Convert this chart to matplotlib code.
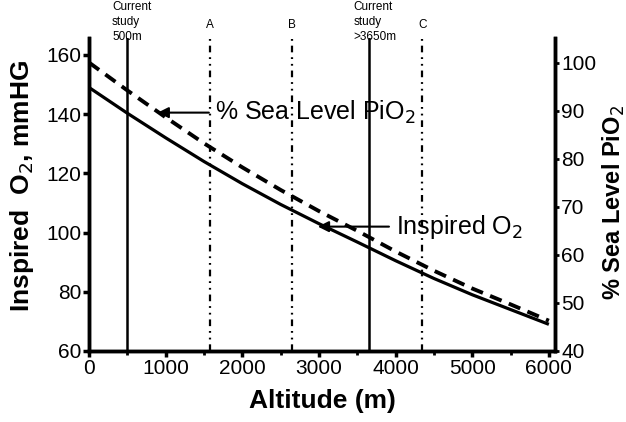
import matplotlib
matplotlib.use("Agg")
import matplotlib.pyplot as plt
import matplotlib.transforms as mtransforms
from matplotlib.ticker import MultipleLocator

plt.rcParams['font.family'] = ['Liberation Sans', 'DejaVu Sans']

altitude = [0, 500, 1000, 1500, 2000, 2500, 3000, 3500, 4000, 4500, 5000, 5500, 6000]
inspired_o2 = [149, 140.3, 132, 124, 116.5, 109.5, 103, 96.8, 90.5, 84.5, 79, 74, 69]
pct_sea_level = [100, 94.2, 88.6, 83.2, 78.2, 73.5, 69.1, 65.0, 60.7, 56.7, 53.0, 49.7, 46.3]

solid_markers = [500, 3650]
solid_marker_labels = ["Current\nstudy\n500m", "Current\nstudy\n>3650m"]
dashdot_markers = [1580, 2650, 4350]
dashdot_marker_labels = ["A", "B", "C"]

W, H = 626, 422
fig = plt.figure(figsize=(W / 100, H / 100), dpi=100)
ax = fig.add_axes([89 / W, 1 - 351 / H, (555 - 89) / W, (351 - 38) / H])
ax2 = ax.twinx()

ax.set_xlim(0, 6080)
ax.set_ylim(60, 165.7)
ax2.set_ylim(40, 105.1)

ax.plot(altitude, inspired_o2, color='black', lw=2.3, solid_capstyle='butt')
ax2.plot(altitude, pct_sea_level, color='black', lw=2.8, linestyle=(0, (3.2, 2)))

for xv in solid_markers:
    ax.axvline(xv, color='black', lw=1.8)
for xv in dashdot_markers:
    ax.axvline(xv, color='black', lw=1.6, linestyle=(0, (3, 2.2, 0.8, 2.2, 0.8, 2.2)))

trans = mtransforms.blended_transform_factory(ax.transData, fig.transFigure)
for xv, lab in zip(solid_markers, solid_marker_labels):
    fig.text(xv - 200, 1 - 1 / H, lab, transform=trans, ha='left', va='top',
             fontsize=8.5, linespacing=1.35)
for xv, lab in zip(dashdot_markers, dashdot_marker_labels):
    fig.text(xv, 1 - 25 / H, lab, transform=trans, ha='center', va='center', fontsize=8.5)

for a in (ax, ax2):
    a.spines['top'].set_visible(False)
    for s in ('left', 'right', 'bottom'):
        a.spines[s].set_linewidth(2.5)

ax.xaxis.set_major_locator(MultipleLocator(1000))
ax.xaxis.set_minor_locator(MultipleLocator(500))
ax.yaxis.set_major_locator(MultipleLocator(20))
ax2.yaxis.set_major_locator(MultipleLocator(10))
ax.tick_params(axis='both', which='major', direction='out', length=4, width=2.5,
               labelsize=15, pad=1.5)
ax.tick_params(axis='x', which='minor', direction='out', length=3, width=2)
ax2.tick_params(axis='y', which='major', direction='out', length=3, width=2,
                labelsize=15, pad=1.5)

ax.set_xlabel('Altitude (m)', fontsize=19, fontweight='bold', labelpad=8)
ylab = ax.set_ylabel('Inspired  O$_2$, mmHG', fontsize=19, fontweight='bold')
ylab.set_verticalalignment('center')
ax.yaxis.set_label_coords((22 - 89) / 466, (351 - 186) / 313)
ylab2 = ax2.set_ylabel('% Sea Level PiO$_2$', fontsize=17, fontweight='bold')
ylab2.set_verticalalignment('center')
ax2.yaxis.set_label_coords((614 - 89) / 466, (351 - 203) / 313)

ax.annotate('', xy=(860, 140.5), xytext=(1600, 140.5),
            arrowprops=dict(arrowstyle='-|>', lw=1.5, color='black', mutation_scale=16))
ax.text(1640, 140.5, '% Sea Level PiO$_2$', fontsize=18, ha='left', va='center')

ax.annotate('', xy=(2950, 102), xytext=(3950, 102),
            arrowprops=dict(arrowstyle='-|>', lw=1.5, color='black', mutation_scale=16))
ax.text(4000, 102, 'Inspired O$_2$', fontsize=18, ha='left', va='center')

fig.savefig('out.png', dpi=100)
